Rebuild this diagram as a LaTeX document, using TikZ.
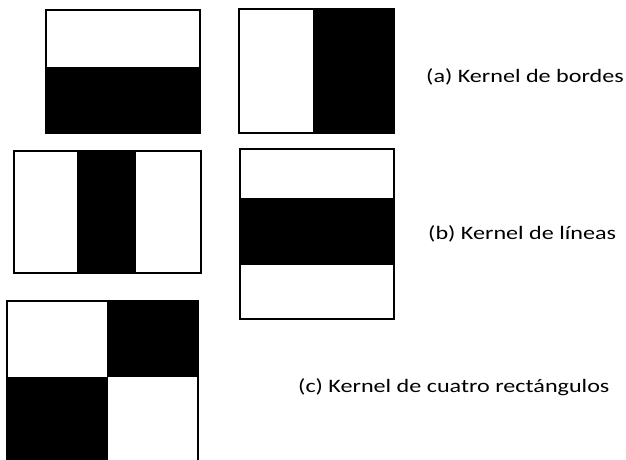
\documentclass[tikz,border=0pt]{standalone}
\usepackage{graphicx}
\usepackage{fontspec}
\setmainfont{Carlito}
\newcommand{\widetext}[1]{\scalebox{1.27}[1]{#1}}
\begin{document}
\begin{tikzpicture}[x=1pt,y=-1pt,
  frame/.style={draw=black,line width=2.5pt},
  dark/.style={fill=black},
  caption/.style={anchor=base west,inner sep=0pt,font=\fontsize{19}{21}\selectfont}]
\useasboundingbox (0,0) rectangle (626,459);
% (a) edge kernels
\fill[dark] (46,67) rectangle (200,133);
\draw[frame] (46,10) rectangle (200,133);
\fill[dark] (313,9) rectangle (394,133);
\draw[frame] (239,9) rectangle (394,133);
% (b) line kernels
\fill[dark] (77,151) rectangle (136,273);
\draw[frame] (14,151) rectangle (201,273);
\fill[dark] (240,198) rectangle (394,265);
\draw[frame] (240,149) rectangle (394,319);
% (c) four-rectangle kernel, open at the bottom
\fill[dark] (107,301) rectangle (198,377);
\fill[dark] (7,377) rectangle (108,460);
\draw[frame] (7,462) -- (7,301) -- (198,301) -- (198,462);
% captions
\node[caption] (capa) at (426,82) {\widetext{(a) Kernel de bordes}};
\node[caption] (capb) at (428,239) {\widetext{(b) Kernel de líneas}};
\node[caption] (capc) at (298,392) {\widetext{(c) Kernel de cuatro rectángulos}};
\end{tikzpicture}
\end{document}
